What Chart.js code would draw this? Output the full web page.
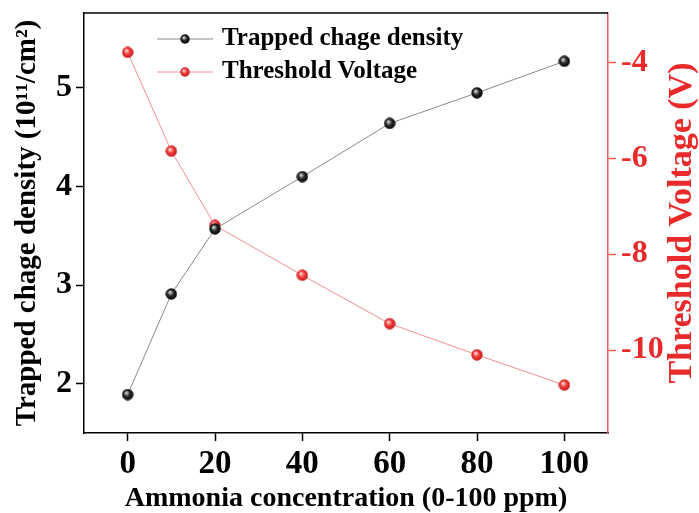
<!DOCTYPE html>
<html>
<head>
<meta charset="utf-8">
<script src="https://cdn.jsdelivr.net/npm/chart.js@4.4.1/dist/chart.umd.min.js"></script>
<style>
  html, body { margin: 0; padding: 0; background: #fff; }
  canvas { display: block; }
</style>
</head>
<body>
<canvas id="chart" width="699" height="513"></canvas>
<script>
// values
const concentration = [0, 10, 20, 40, 60, 80, 100]
const trappedCharge = [1.89, 2.91, 3.57, 4.1, 4.64, 4.95, 5.27]
const thresholdVoltage = [-3.79, -5.85, -7.4, -8.44, -9.45, -10.1, -10.73]

const xTicks = [0, 20, 40, 60, 80, 100]
const leftTicks = [2, 3, 4, 5]
const rightTicks = [-4, -6, -8, -10]

const FONT = "'Liberation Serif', 'Times New Roman', serif"
const RED = '#e82a2a'

// little shaded balls like the origin markers
function ball (size, light, mid, dark) {
  const c = document.createElement('canvas')
  c.width = size
  c.height = size
  const g = c.getContext('2d')
  const r = size / 2
  const grad = g.createRadialGradient(r * 0.75, r * 0.7, r * 0.1, r, r, r)
  grad.addColorStop(0, light)
  grad.addColorStop(0.45, mid)
  grad.addColorStop(1, dark)
  g.fillStyle = grad
  g.beginPath()
  g.arc(r, r, r - 0.3, 0, Math.PI * 2)
  g.fill()
  return c
}

const blackBall = ball(12, '#cfcfcf', '#2a2a2a', '#000')
const redBall = ball(12, '#ffd0d0', '#f23b3b', '#c01818')
const blackBallSmall = ball(10, '#cfcfcf', '#2a2a2a', '#000')
const redBallSmall = ball(10, '#ffd0d0', '#f23b3b', '#c01818')

const toPoints = (ys) => concentration.map((x, i) => ({ x, y: ys[i] }))

// keep the plot box where it is in the picture
const noPad = (s) => {
  s.paddingTop = 0
  s.paddingBottom = 0
  s.paddingLeft = 0
  s.paddingRight = 0
}

const extras = {
  id: 'extras',
  afterDraw (chart) {
    const { ctx, chartArea: a } = chart
    ctx.save()
    // top frame line
    ctx.strokeStyle = '#000'
    ctx.lineWidth = 1.5
    ctx.beginPath()
    ctx.moveTo(a.left, a.top)
    ctx.lineTo(a.right, a.top)
    ctx.stroke()

    // legend inside the plot
    const items = [
      { label: 'Trapped chage density', line: '#8a8a8a', img: blackBallSmall, y: 39 },
      { label: 'Threshold Voltage', line: '#f09090', img: redBallSmall, y: 72 }
    ]
    items.forEach(it => {
      ctx.strokeStyle = it.line
      ctx.lineWidth = 1
      ctx.beginPath()
      ctx.moveTo(157, it.y)
      ctx.lineTo(213, it.y)
      ctx.stroke()
      ctx.drawImage(it.img, 185 - it.img.width / 2, it.y - it.img.height / 2)
      ctx.fillStyle = '#000'
      ctx.font = 'bold 25px ' + FONT
      ctx.textBaseline = 'middle'
      ctx.textAlign = 'left'
      ctx.fillText(it.label, 222, it.y)
    })

    // right axis title, reads bottom to top
    ctx.translate(682, (a.top + a.bottom) / 2)
    ctx.rotate(-Math.PI / 2)
    ctx.fillStyle = RED
    ctx.font = 'bold 34px ' + FONT
    ctx.textAlign = 'center'
    ctx.textBaseline = 'middle'
    ctx.fillText('Threshold Voltage (V)', 0, 0)
    ctx.restore()
  }
}

const chart = new Chart(document.getElementById('chart').getContext('2d'), {
  type: 'line',
  data: {
    datasets: [
      {
        label: 'Trapped chage density',
        data: toPoints(trappedCharge),
        yAxisID: 'y',
        borderColor: '#8a8a8a',
        borderWidth: 1,
        pointStyle: blackBall,
        tension: 0
      },
      {
        label: 'Threshold Voltage',
        data: toPoints(thresholdVoltage),
        yAxisID: 'y1',
        borderColor: '#f09090',
        borderWidth: 1,
        pointStyle: redBall,
        tension: 0
      }
    ]
  },
  options: {
    responsive: false,
    animation: false,
    layout: { padding: { top: 13, left: 0, right: 0, bottom: 0 } },
    plugins: {
      legend: { display: false },
      tooltip: { enabled: false }
    },
    scales: {
      x: {
        type: 'linear',
        min: -10,
        max: 110,
        afterBuildTicks: (s) => { s.ticks = xTicks.map(v => ({ value: v })) },
        afterFit: (s) => { s.height = 80; noPad(s) },
        grid: { drawOnChartArea: false, tickLength: 8, tickWidth: 1.5, tickColor: '#000' },
        border: { color: '#000', width: 1.5 },
        ticks: { color: '#000', font: { family: FONT, size: 33, weight: 'bold' }, padding: 4, maxRotation: 0 },
        title: {
          display: true,
          text: 'Ammonia concentration (0-100 ppm)',
          color: '#000',
          font: { family: FONT, size: 28, weight: 'bold', lineHeight: 1 },
          padding: { top: 3, bottom: 0 }
        }
      },
      y: {
        type: 'linear',
        position: 'left',
        min: 1.5,
        max: 5.76,
        afterBuildTicks: (s) => { s.ticks = leftTicks.map(v => ({ value: v })) },
        afterFit: (s) => { s.width = 84; noPad(s) },
        grid: { drawOnChartArea: false, tickLength: 8, tickWidth: 1.5, tickColor: '#000' },
        border: { color: '#000', width: 1.5 },
        ticks: { color: '#000', font: { family: FONT, size: 32, weight: 'bold' }, padding: 4 },
        title: {
          display: true,
          text: 'Trapped chage density (10¹¹/cm²)',
          color: '#000',
          font: { family: FONT, size: 29, weight: 'bold', lineHeight: 1 },
          padding: { top: 13, bottom: 0 }
        }
      },
      y1: {
        type: 'linear',
        position: 'right',
        min: -11.73,
        max: -2.97,
        afterBuildTicks: (s) => { s.ticks = rightTicks.map(v => ({ value: v })) },
        afterFit: (s) => { s.width = 91; noPad(s) },
        grid: { drawOnChartArea: false, tickLength: 8, tickWidth: 1.5, tickColor: '#e05a5a' },
        border: { color: '#e05a5a', width: 1.5 },
        ticks: { color: RED, font: { family: FONT, size: 32, weight: 'bold' }, padding: 5 }
      }
    }
  },
  plugins: [extras]
})
</script>
</body>
</html>
